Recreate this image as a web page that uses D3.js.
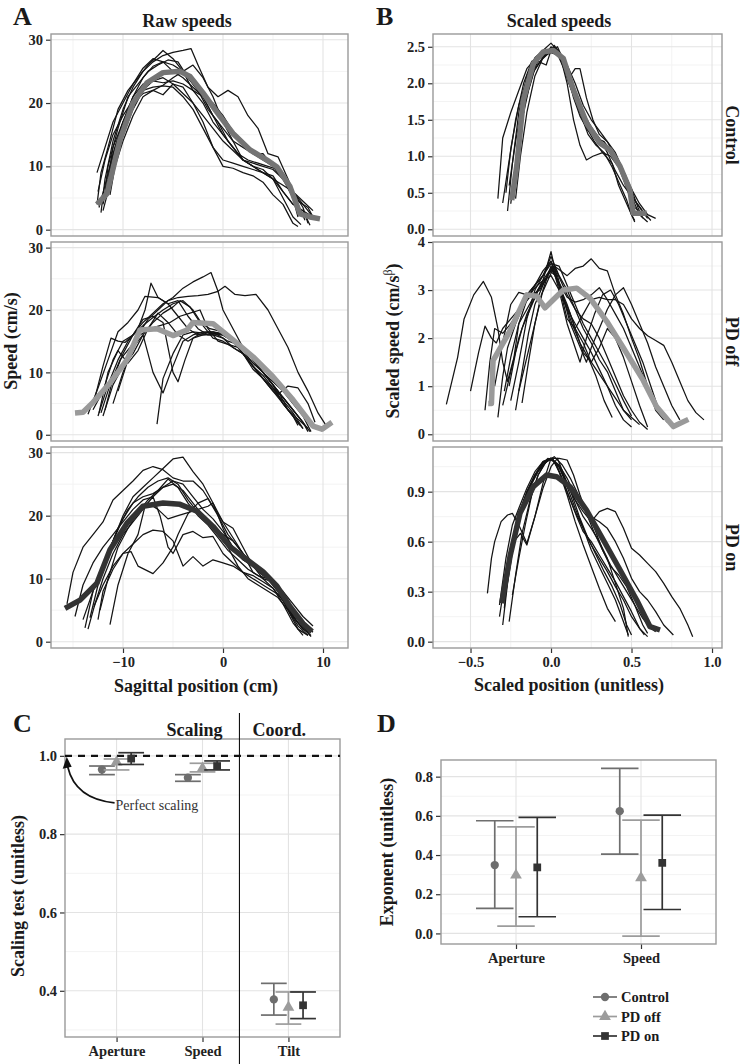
<!DOCTYPE html>
<html><head><meta charset="utf-8">
<script src="https://cdn.jsdelivr.net/npm/d3@7"></script>
<style>body{margin:0;background:#fff}</style>
</head><body>
<svg id="chart" width="743" height="1064"></svg>
<script>
// ---------------- DATA ----------------
const groups = ["Control", "PD off", "PD on"];

// Panel A: raw speeds (position cm, speed cm/s)
const rawControlTrials = [
  [[-12.6,4],[-12.2,9],[-11.5,13],[-10.5,19],[-9.5,22],[-8.5,24],[-7.5,26],[-6.5,27.5],[-6,28.3],[-5,27],[-4,25],[-3,22],[-2,21],[-1,18],[0,15],[1,13],[2,11],[3,10],[4,9.5],[5,8],[6,5],[7,2],[7.8,0.8]],
  [[-12.2,2.7],[-11.8,8],[-11,14],[-10,19],[-9,22.5],[-8,25],[-7,26.5],[-6,27.5],[-5,28],[-4,28.3],[-3.2,28.6],[-2.5,26],[-1.5,22.5],[-0.5,21],[0.5,22],[1.5,21],[2.5,18],[3.5,16],[4.5,12],[5.5,11.5],[6.5,8],[7.5,4],[8.2,1.5]],
  [[-11.8,5.8],[-11.5,10],[-10.5,16],[-9.5,21],[-8.5,23],[-7.5,25],[-6.5,26],[-5.5,26.8],[-4.5,26.5],[-3.5,24],[-2.5,22],[-1.5,19],[-0.5,17],[0.5,14],[1.5,12],[2.5,11],[3.5,10.5],[4.5,10],[5.5,9.5],[6.5,7],[7.5,4.5],[8.5,3.5],[9,2]],
  [[-12,4],[-11.5,8],[-10.8,13],[-10,17],[-9,20],[-8,21.5],[-7,22],[-6,21.3],[-5,23],[-4,22.5],[-3,20],[-2,17],[-1,13],[0,10],[1,9.7],[2,9],[3,8.5],[4,7.5],[5,5.5],[6,4],[7,1],[7.5,0.5]],
  [[-12.5,6],[-11.8,11],[-11,15],[-10,18],[-9,20.5],[-8,22],[-7,22.5],[-6,22.7],[-5,22.5],[-4,21],[-3,19],[-2,16],[-1,13],[0,11],[1,10.5],[2,10],[3,9.5],[4,9],[5,8],[6,6],[7,4],[8,3],[9,2],[9.5,1.5]],
  [[-12.6,9],[-12,12],[-11,17],[-10,20],[-9,23],[-8,25.5],[-7,27],[-6,26.5],[-5,25],[-4,24],[-3,22.5],[-2,21],[-1,20],[0,18],[1,15.5],[2,14],[3,12],[4,11],[5,10],[6,8],[7,5],[7.5,2]],
  [[-11.5,8],[-11,13],[-10,17],[-9,21],[-8,23],[-7,23.5],[-6,23.2],[-5,23.5],[-4,23],[-3,22],[-2,20],[-1,17],[0,15],[1,13],[2,11],[3,10],[4,9],[5,8.5],[6,6],[7,4],[8,3],[8.7,0.7]],
  [[-12.4,3.5],[-11.8,7],[-11,12],[-10,17],[-9,21],[-8,24],[-7,25.8],[-6,26.5],[-5,26],[-4,25],[-3,23],[-2,21],[-1,18],[0,16],[1,14],[2,13],[3,12],[4,12],[5,10],[6,8],[7,6],[8,4.5],[9,3]],
  [[-12,3],[-11.5,6],[-10.8,10],[-10,15],[-9,19],[-8,22],[-7,23.5],[-6,24],[-5,23],[-4,21.5],[-3,20],[-2,18],[-1,16],[0,14],[1,12.5],[2,11],[3,10.5],[4,10],[5,9.5],[6,8],[7,6],[8,3.5],[8.5,1]],
  [[-11.3,5.5],[-10.8,10],[-10,14],[-9,18],[-8,21],[-7,22],[-6,22.8],[-5,24],[-4,25],[-3,26],[-2,24],[-1,21],[0,17],[1,14],[2,11],[3,10],[4,9],[5,8],[6,7],[7,6],[8,4],[9,2]]
];
const rawControlMean = [[-12.6,4.0],[-11.6,5.7],[-10.3,14.2],[-9.0,20],[-7.6,23.2],[-6.0,24.8],[-4.3,25.0],[-3.3,24.2],[-2.0,21.6],[-0.3,17.9],[1.0,15.2],[2.7,12.6],[4.4,11.0],[5.4,9.9],[6.7,6.8],[7.7,2.5],[8.7,2.0],[9.7,1.7]];

const rawPdOffTrials = [
  [[-12.5,3],[-11.5,8],[-10.5,12],[-9.5,15],[-8.5,17],[-7.8,20],[-7.2,24.3],[-6.5,22],[-5.5,21],[-4.5,19],[-3.5,17],[-2.5,16],[-1,16],[0,15.5],[1,14],[2,13],[3,11],[4,9],[5,7],[6,5],[7,3],[8,1]],
  [[-13.5,3.3],[-12.5,7.5],[-11.5,12],[-10.5,16.5],[-9.5,18],[-8.5,20],[-7.8,22.2],[-6.5,22],[-5.5,21],[-4.5,21.5],[-3.5,19],[-2.5,17],[-1.5,16],[0,16],[1,15],[2,13],[3,11],[4,9.5],[5,7.5],[6,5],[7,3],[7.7,1.5]],
  [[-11.8,4],[-11,9],[-10,13],[-9,16],[-8,18],[-7,19.5],[-6,21],[-5,22],[-4,23.5],[-3,24.5],[-2,25.3],[-1.2,26],[-0.5,23],[0,20],[1,17],[2,14],[3,12],[4,10],[5,8.5],[6,7],[7,5],[8,3],[8.8,0.5]],
  [[-10.5,7],[-9.5,12],[-8.5,16],[-7.5,18.5],[-6.5,20],[-5.5,21.5],[-4.5,22],[-3.5,22.2],[-2.5,22.3],[-1.5,22.5],[-0.5,23],[0.2,23.8],[1.2,22.5],[2.2,22.3],[3.3,22.5],[4.5,20],[5.5,17],[6.5,14],[7.5,10],[8.5,7],[9.5,3.5],[10.3,1.5]],
  [[-12,3],[-11,8],[-10,11],[-9,13],[-8,16],[-7,10],[-6,6.7],[-5,11],[-4,15],[-3,16],[-2,16.5],[-1,16.5],[0,16],[1,15],[2,13],[3,11],[4,9],[5,7],[6,5.5],[7,3.5],[8,1]],
  [[-13,4],[-12,7],[-11,12],[-10,15],[-9,16],[-8,18.5],[-7,19],[-6,18],[-5,10],[-4.5,8.5],[-3.8,12],[-3,15.5],[-2,16],[-1,16.3],[0,16],[1,15],[2,14],[3,12],[4,10],[5,8],[6,6],[7,4],[8,2]],
  [[-6.6,1.7],[-6,9],[-5,13],[-4,16],[-3,16.5],[-2,16.3],[-1,16.5],[0,16.2],[1,15],[2,13],[3,10.5],[4,9],[5,7.5],[6,6],[7,4],[8,2],[8.7,0.5]],
  [[-11,5],[-10,10],[-9,14],[-8,16],[-7,18],[-6,19.5],[-5,20.5],[-4.3,21.5],[-3.3,20.5],[-2.3,18],[-1.3,17],[0,16.5],[1,15.5],[2,13.5],[3,11.5],[4,10],[5,8],[6,6],[7,4],[8,2],[8.5,0.5]],
  [[-12.2,3.5],[-11.3,8],[-10.3,12],[-9.3,14],[-8.3,16],[-7.3,17],[-6.3,17.5],[-5.3,18],[-4.3,19],[-3.3,19.5],[-2.3,20],[-1.5,17],[-0.5,15],[0.5,14.5],[1.5,14],[2.5,12],[3.5,10],[4.5,8],[5.5,6.5],[6.5,7.8],[7.5,7.5],[8.5,5],[9.2,2]],
  [[-12.8,6],[-12,11],[-11.2,15.5],[-10.5,15],[-9.8,14.8],[-9,16],[-8,17.5],[-7,18.8],[-6,20],[-5,21],[-4,21.5],[-3,20],[-2,17.5],[-1,15.5],[0,15],[1,14],[2,13],[3,11.5],[4,10],[5,8],[6,5],[7,3],[7.5,1.5]],
  [[-12.4,3.5],[-11.5,10],[-10.5,13.5],[-9.5,11.5],[-8.5,13.5],[-7.5,17],[-6.5,19.5],[-5.5,18],[-4.5,16],[-3.5,15],[-2.5,16],[-1.5,16.5],[-0.5,16],[0.5,15],[1.5,14.5],[2.5,13],[3.5,11],[4.5,9],[5.5,7],[6.5,4],[7.5,2.5],[8.5,1]]
];
const rawPdOffMean = [[-14.8,3.5],[-14.0,3.6],[-13,5.2],[-11.3,8.3],[-9.6,12.0],[-8.3,16.8],[-6.6,17],[-5,15.9],[-3.6,16.8],[-3.0,18.0],[-1.0,17.8],[1.0,15.2],[3.0,12.5],[5.0,9.3],[7.0,5.6],[9.0,1.4],[9.9,0.9],[10.9,2.0]];

const rawPdOnTrials = [
  [[-15.6,6],[-15,11],[-14,15],[-13,17],[-12,19],[-11,22.5],[-10,24],[-9,25.5],[-8,27.2],[-7,27.8],[-6,27.3],[-5,26],[-4,25.5],[-3,25.5],[-2,24],[-1,21.5],[0,19],[1,16.5],[2,14],[3,12],[4,10],[5,8.5],[6,6.5],[7,4],[8,2],[8.8,1]],
  [[-14,3.5],[-13,8],[-12,12],[-11,16],[-10,20],[-9,23],[-8,24.5],[-7,26],[-6,27.5],[-5,29],[-4,29.3],[-3,27],[-2,25],[-1,22],[0,19],[1,18],[2,15],[3,12],[4,11],[5,9.5],[6,7],[7,4.5],[8,2.5],[8.7,1]],
  [[-13.5,2],[-12.8,6],[-12,9],[-11,12],[-10,14],[-9.2,14.3],[-8.5,12],[-7.5,11.2],[-7,10.8],[-6,12.5],[-5,15],[-4.5,17],[-3.5,20.3],[-2.5,22],[-1.5,22.7],[-0.5,20],[0.5,17],[1.5,15],[2.5,13],[3.5,12],[4.5,10],[5.5,8],[6.5,5],[7.5,2],[8.5,1]],
  [[-12.5,3.5],[-12,8],[-11,11.5],[-10,14],[-9,15.5],[-8,17],[-7,17.7],[-6,17.5],[-5,16],[-4,12],[-3,13.5],[-2,12],[-1,13],[0,12.5],[1,12],[2,11],[3,10.5],[4,9.5],[5,8.5],[6,6],[7,3],[8,1]],
  [[-11.3,2.7],[-10.5,9],[-9.5,14],[-8.5,17],[-7.8,21.5],[-7,23],[-6.3,20],[-5.5,15],[-5,14],[-4,17],[-3,17.5],[-2,16.5],[-1,16.7],[0,14],[1,12.5],[2,11],[3,10],[4,9],[5,8],[6,7],[7,4],[8,2]],
  [[-13.3,3.8],[-12.5,9],[-11.5,14],[-10.5,18],[-9.5,21],[-8.5,23],[-7.5,24.5],[-6.5,25.5],[-5.5,26],[-4.5,25],[-3.5,22.5],[-2.5,20.5],[-1.5,19],[-0.5,17],[0.5,15],[1.5,12],[2.5,10],[3.5,9],[4.5,8],[5.5,7],[6.5,5],[7.5,2.5],[8.5,1]],
  [[-12.3,5],[-11.5,10],[-10.5,15],[-9.5,18],[-8.5,20.5],[-7.5,22.5],[-6.5,24],[-5.5,25.8],[-4.5,24.5],[-3.5,22],[-2.5,20],[-1.5,18.5],[-0.5,16.5],[0.5,14.5],[1.5,13],[2.5,11.5],[3.5,10.5],[4.5,10],[5.5,8],[6.5,5.5],[7.5,3],[8.5,1.5]],
  [[-13.8,2.2],[-13,8],[-12,12],[-11,16],[-10,19.5],[-9,22],[-8,23],[-7,23.5],[-6,24.5],[-5,25],[-4,24],[-3,22],[-2,20],[-1,18.5],[0,17],[1,16],[2,14],[3,11],[4,10],[5,9.5],[6,7],[7,5],[8,3],[9,1.5]],
  [[-14.8,4],[-14,9],[-13,12.5],[-12,15],[-11,17],[-10,19],[-9,21],[-8,22.5],[-7,23],[-6,24.5],[-5,25.5],[-4,25],[-3,23],[-2,21],[-1,19.5],[0,17.5],[1,15],[2,13],[3,12],[4,10.5],[5,9.5],[6,8],[7,6],[8,4],[9,2.5]],
  [[-12.9,5.5],[-12,10],[-11,14],[-10,17],[-9,19],[-8,21],[-7.5,22],[-6.5,21],[-5.5,19.5],[-4.5,20],[-3.5,20.5],[-2.5,21],[-1.5,21.5],[-1,22],[0,18],[1,14.5],[2,13],[3,12],[4,11],[5,9],[6,7],[7,4.5],[8,2.5],[8.8,0.8]]
];
const rawPdOnMean = [[-15.8,5.3],[-14.3,6.6],[-12.6,9.3],[-11.3,14.6],[-9.6,18.8],[-8.0,21.5],[-6.0,22.0],[-4.3,21.8],[-2.6,20.7],[-1.0,18.3],[0.7,15.1],[2.4,13],[4.0,11.1],[5.4,8.8],[6.7,5.6],[8.0,2.9],[8.9,1.6]];

// Panel B: scaled speeds
const scaledControlTrials = [
  [[-0.33,0.42],[-0.3,1.25],[-0.25,1.6],[-0.2,1.9],[-0.15,2.2],[-0.1,2.33],[-0.05,2.35],[0,2.5],[0.05,2.4],[0.1,2.2],[0.15,1.9],[0.2,1.6],[0.25,1.4],[0.3,1.25],[0.35,1.05],[0.4,0.8],[0.45,0.6],[0.5,0.45],[0.55,0.3],[0.6,0.15]],
  [[-0.3,0.36],[-0.27,0.8],[-0.22,1.5],[-0.17,2.0],[-0.12,2.3],[-0.06,2.35],[-0.02,2.4],[0.02,2.5],[0.06,2.35],[0.1,2.0],[0.14,1.5],[0.18,1.15],[0.22,0.95],[0.26,1.0],[0.32,1.05],[0.38,0.9],[0.42,0.6],[0.47,0.35],[0.52,0.1]],
  [[-0.27,0.25],[-0.24,0.9],[-0.2,1.6],[-0.15,2.1],[-0.1,2.35],[-0.05,2.45],[0,2.55],[0.04,2.45],[0.08,2.3],[0.12,2.1],[0.15,2.2],[0.18,2.2],[0.22,1.8],[0.26,1.5],[0.3,1.3],[0.35,1.2],[0.4,1.0],[0.45,0.7],[0.5,0.45],[0.55,0.2],[0.6,0.1]],
  [[-0.22,0.42],[-0.19,1.0],[-0.15,1.6],[-0.1,2.1],[-0.05,2.35],[0,2.48],[0.04,2.4],[0.08,2.2],[0.13,1.9],[0.18,1.6],[0.23,1.3],[0.28,1.15],[0.33,1.05],[0.38,0.85],[0.43,0.6],[0.47,0.4],[0.5,0.2],[0.52,0.12]],
  [[-0.25,0.35],[-0.22,0.9],[-0.18,1.5],[-0.14,1.9],[-0.1,2.2],[-0.05,2.35],[-0.01,2.42],[0.03,2.45],[0.07,2.3],[0.11,2.0],[0.16,1.75],[0.21,1.5],[0.26,1.3],[0.31,1.15],[0.36,1.1],[0.4,1.0],[0.45,0.8],[0.5,0.55],[0.54,0.3],[0.57,0.15]],
  [[-0.28,0.5],[-0.25,1.1],[-0.2,1.7],[-0.15,2.05],[-0.1,2.3],[-0.05,2.38],[0,2.42],[0.05,2.38],[0.1,2.25],[0.15,2.0],[0.2,1.7],[0.25,1.5],[0.3,1.35],[0.35,1.2],[0.4,1.05],[0.45,0.8],[0.5,0.55],[0.55,0.35],[0.6,0.2],[0.65,0.15]],
  [[-0.26,0.6],[-0.22,1.2],[-0.18,1.7],[-0.13,2.1],[-0.08,2.3],[-0.03,2.25],[0.0,2.45],[0.04,2.5],[0.08,2.3],[0.12,1.95],[0.17,1.65],[0.22,1.4],[0.27,1.2],[0.32,1.05],[0.37,1.0],[0.42,0.85],[0.47,0.6],[0.52,0.4],[0.57,0.25],[0.62,0.12]],
  [[-0.24,0.55],[-0.2,1.2],[-0.16,1.75],[-0.11,2.15],[-0.06,2.32],[-0.02,2.4],[0.02,2.52],[0.06,2.4],[0.1,2.15],[0.14,1.8],[0.18,1.55],[0.23,1.35],[0.28,1.25],[0.33,1.2],[0.38,1.05],[0.43,0.8],[0.48,0.5],[0.52,0.3],[0.56,0.22]]
];
const scaledControlMean = [[-0.244,0.40],[-0.213,0.86],[-0.172,1.77],[-0.11,2.27],[-0.048,2.43],[0.014,2.45],[0.076,2.34],[0.139,1.91],[0.222,1.45],[0.304,1.18],[0.366,1.09],[0.429,0.86],[0.49,0.54],[0.51,0.22],[0.594,0.22]];

const scaledPdOffTrials = [
  [[-0.65,0.62],[-0.58,1.6],[-0.54,2.4],[-0.48,2.9],[-0.42,3.18],[-0.37,2.85],[-0.33,2.2],[-0.3,1.5],[-0.27,1.1],[-0.23,1.6],[-0.2,2.3],[-0.15,2.6],[-0.1,2.9],[-0.05,3.2],[0,3.8],[0.04,3.2],[0.08,2.8],[0.13,2.3],[0.18,1.9],[0.23,1.6],[0.28,1.2],[0.33,0.7],[0.38,0.35]],
  [[-0.5,0.9],[-0.45,1.7],[-0.41,2.25],[-0.37,2.0],[-0.34,1.9],[-0.3,2.2],[-0.25,2.4],[-0.2,2.6],[-0.15,2.9],[-0.1,3.1],[-0.05,3.3],[0,3.7],[0.05,3.3],[0.1,3.0],[0.15,2.6],[0.2,2.2],[0.25,1.9],[0.3,1.55],[0.35,1.3],[0.4,0.9],[0.45,0.5],[0.5,0.3]],
  [[-0.33,0.35],[-0.3,1.2],[-0.27,1.8],[-0.22,2.3],[-0.17,2.7],[-0.12,2.9],[-0.07,3.0],[-0.02,3.3],[0.02,3.5],[0.06,3.4],[0.1,3.3],[0.15,3.45],[0.2,3.5],[0.25,3.65],[0.3,3.45],[0.35,3.4],[0.4,2.9],[0.45,2.5],[0.5,2.0],[0.55,1.55],[0.6,1.0],[0.65,0.5],[0.7,0.3]],
  [[-0.2,0.9],[-0.15,1.6],[-0.1,2.3],[-0.05,3.0],[0,3.5],[0.05,3.1],[0.1,2.4],[0.15,2.2],[0.2,2.5],[0.25,2.8],[0.3,2.85],[0.35,2.8],[0.4,2.8],[0.45,2.7],[0.5,2.4],[0.55,2.2],[0.6,2.05],[0.65,1.95],[0.7,1.85],[0.75,1.5],[0.8,1.1],[0.85,0.7],[0.9,0.45],[0.95,0.3]],
  [[-0.25,0.7],[-0.2,1.5],[-0.15,2.4],[-0.1,3.0],[-0.05,3.3],[0,3.6],[0.04,3.3],[0.08,2.8],[0.12,2.3],[0.17,1.9],[0.22,1.5],[0.25,1.8],[0.3,2.2],[0.35,2.6],[0.4,2.9],[0.45,3.05],[0.5,2.7],[0.55,2.3],[0.6,1.9],[0.65,1.4],[0.7,1.0],[0.75,0.6],[0.8,0.3]],
  [[-0.29,0.9],[-0.25,1.6],[-0.2,2.3],[-0.15,2.8],[-0.1,3.1],[-0.05,3.3],[0,3.55],[0.05,3.5],[0.1,3.1],[0.15,2.7],[0.2,2.3],[0.25,2.0],[0.3,1.7],[0.35,1.4],[0.4,1.05],[0.45,0.7],[0.5,0.38]],
  [[-0.22,0.5],[-0.18,1.3],[-0.14,2.1],[-0.1,2.7],[-0.05,3.1],[-0.01,3.4],[0.03,3.3],[0.07,2.9],[0.12,2.5],[0.16,2.1],[0.2,1.7],[0.25,1.5],[0.3,1.8],[0.35,2.2],[0.4,2.0],[0.45,1.6],[0.5,1.1],[0.55,0.6],[0.6,0.15]],
  [[-0.3,0.6],[-0.25,1.3],[-0.2,2.0],[-0.15,2.5],[-0.1,2.85],[-0.05,3.2],[0,3.45],[0.05,3.15],[0.1,2.85],[0.15,2.75],[0.2,2.8],[0.25,2.9],[0.3,3.05],[0.35,2.8],[0.4,2.5],[0.45,2.2],[0.5,1.8],[0.55,1.4],[0.6,1.0],[0.65,0.6],[0.7,0.35]],
  [[-0.41,0.5],[-0.38,1.5],[-0.35,2.2],[-0.3,2.1],[-0.25,2.3],[-0.2,2.55],[-0.15,2.8],[-0.1,3.05],[-0.05,3.2],[0,3.3],[0.05,3.0],[0.1,2.6],[0.15,2.3],[0.2,2.0],[0.25,1.7],[0.3,1.35],[0.35,1.0],[0.4,0.6],[0.45,0.3],[0.5,0.15]],
  [[-0.18,0.65],[-0.14,1.5],[-0.1,2.3],[-0.06,2.9],[-0.02,3.2],[0.02,3.5],[0.06,3.2],[0.1,2.9],[0.15,2.6],[0.2,2.4],[0.25,2.3],[0.3,2.0],[0.35,1.6],[0.4,1.2],[0.45,0.8],[0.5,0.5],[0.55,0.25],[0.6,0.1]],
  [[-0.26,1.0],[-0.22,1.7],[-0.18,2.2],[-0.13,2.6],[-0.08,3.0],[-0.03,3.25],[0.01,3.5],[0.05,3.1],[0.1,2.7],[0.15,2.2],[0.2,1.9],[0.25,1.5],[0.3,1.25],[0.35,1.0],[0.4,0.75],[0.45,0.5],[0.5,0.35],[0.55,0.2]],
  [[-0.35,1.0],[-0.3,1.9],[-0.25,2.7],[-0.2,2.95],[-0.15,2.9],[-0.1,3.1],[-0.05,3.4],[0,3.6],[0.05,3.0],[0.1,2.3],[0.15,1.8],[0.18,1.5],[0.22,2.0],[0.27,2.5],[0.32,2.9],[0.37,3.0],[0.42,2.7],[0.47,2.3],[0.52,1.9],[0.57,1.5],[0.62,1.0],[0.67,0.5],[0.72,0.25]]
];
const scaledPdOffMean = [[-0.39,0.64],[-0.37,0.64],[-0.36,1.53],[-0.255,2.15],[-0.151,2.9],[-0.089,2.87],[-0.037,2.63],[0.014,2.8],[0.076,3.0],[0.16,3.04],[0.242,2.83],[0.346,2.35],[0.449,1.8],[0.573,1.12],[0.656,0.57],[0.76,0.16],[0.853,0.31]];

const scaledPdOnTrials = [
  [[-0.395,0.29],[-0.37,0.5],[-0.35,0.6],[-0.31,0.72],[-0.27,0.76],[-0.24,0.77],[-0.2,0.7],[-0.15,0.59],[-0.1,0.75],[-0.05,0.95],[0,1.1],[0.05,1.05],[0.1,0.95],[0.15,0.85],[0.2,0.75],[0.25,0.68],[0.3,0.6],[0.35,0.5],[0.4,0.35],[0.45,0.2],[0.48,0.03]],
  [[-0.32,0.15],[-0.28,0.4],[-0.24,0.6],[-0.2,0.75],[-0.15,0.88],[-0.1,1.0],[-0.05,1.08],[0,1.1],[0.05,1.05],[0.1,0.95],[0.15,0.85],[0.2,0.78],[0.25,0.72],[0.3,0.78],[0.35,0.8],[0.4,0.78],[0.45,0.68],[0.5,0.56],[0.55,0.52],[0.6,0.47],[0.65,0.42],[0.7,0.35],[0.75,0.27],[0.8,0.2],[0.85,0.1],[0.88,0.03]],
  [[-0.3,0.1],[-0.27,0.35],[-0.23,0.6],[-0.19,0.78],[-0.15,0.9],[-0.1,1.0],[-0.05,1.06],[0,1.1],[0.05,1.06],[0.1,0.98],[0.15,0.88],[0.2,0.8],[0.25,0.75],[0.3,0.72],[0.35,0.68],[0.4,0.6],[0.45,0.5],[0.5,0.38],[0.55,0.3],[0.6,0.25],[0.65,0.18],[0.7,0.1],[0.76,0.04]],
  [[-0.26,0.12],[-0.22,0.4],[-0.18,0.65],[-0.13,0.85],[-0.08,1.0],[-0.03,1.08],[0.01,1.1],[0.05,1.02],[0.1,0.88],[0.15,0.72],[0.2,0.58],[0.25,0.45],[0.3,0.32],[0.35,0.2],[0.4,0.12]],
  [[-0.29,0.2],[-0.26,0.5],[-0.22,0.7],[-0.17,0.85],[-0.12,0.95],[-0.07,1.05],[-0.02,1.1],[0.02,1.08],[0.06,1.0],[0.1,0.9],[0.15,0.78],[0.2,0.68],[0.25,0.55],[0.3,0.45],[0.35,0.35],[0.4,0.25],[0.45,0.12],[0.48,0.04]],
  [[-0.24,0.28],[-0.2,0.5],[-0.16,0.7],[-0.12,0.88],[-0.08,1.0],[-0.04,1.07],[0,1.1],[0.04,1.05],[0.08,0.95],[0.12,0.85],[0.16,0.75],[0.2,0.66],[0.25,0.6],[0.3,0.52],[0.35,0.44],[0.4,0.36],[0.45,0.27],[0.5,0.18],[0.55,0.08],[0.58,0.04]],
  [[-0.3,0.25],[-0.27,0.45],[-0.23,0.65],[-0.18,0.82],[-0.13,0.93],[-0.08,1.02],[-0.03,1.08],[0.02,1.11],[0.07,1.06],[0.12,0.98],[0.17,0.88],[0.22,0.78],[0.27,0.68],[0.32,0.55],[0.37,0.45],[0.42,0.4],[0.47,0.33],[0.52,0.22],[0.57,0.1],[0.6,0.05]],
  [[-0.28,0.3],[-0.24,0.55],[-0.2,0.75],[-0.15,0.9],[-0.1,1.0],[-0.05,1.07],[0,1.1],[0.05,1.1],[0.1,1.09],[0.14,1.0],[0.18,0.88],[0.22,0.77],[0.27,0.65],[0.32,0.55],[0.37,0.46],[0.42,0.38],[0.47,0.3],[0.52,0.22],[0.57,0.14],[0.62,0.08],[0.65,0.06]],
  [[-0.27,0.4],[-0.23,0.6],[-0.19,0.65],[-0.15,0.58],[-0.1,0.75],[-0.05,0.92],[0,1.05],[0.04,1.1],[0.08,1.0],[0.13,0.88],[0.18,0.74],[0.23,0.62],[0.28,0.52],[0.33,0.42],[0.38,0.33],[0.43,0.22],[0.47,0.1],[0.5,0.04]],
  [[-0.32,0.22],[-0.28,0.5],[-0.24,0.7],[-0.2,0.8],[-0.15,0.92],[-0.1,1.02],[-0.05,1.08],[0,1.1],[0.05,1.05],[0.1,0.93],[0.15,0.8],[0.2,0.68],[0.25,0.58],[0.3,0.5],[0.35,0.42],[0.4,0.33],[0.45,0.25],[0.5,0.15],[0.55,0.08],[0.6,0.03]]
];
const scaledPdOnMean = [[-0.306,0.23],[-0.255,0.51],[-0.193,0.77],[-0.11,0.93],[-0.027,1.0],[0.035,0.99],[0.118,0.93],[0.22,0.79],[0.325,0.61],[0.429,0.43],[0.532,0.25],[0.615,0.09],[0.677,0.07]];

// Panel C: scaling test [mean, lower, upper]
const scalingCategories = ["Aperture", "Speed", "Tilt"];
const scalingControl = [[0.965,0.952,0.974],[0.944,0.935,0.952],[0.378,0.338,0.419]];
const scalingPdOff   = [[0.984,0.964,0.992],[0.968,0.959,0.981],[0.358,0.315,0.397]];
const scalingPdOn    = [[0.993,0.978,1.008],[0.974,0.964,0.987],[0.363,0.329,0.397]];

// Panel D: exponent [mean, lower, upper]
const exponentCategories = ["Aperture", "Speed"];
const exponentControl = [[0.349,0.128,0.575],[0.624,0.405,0.842]];
const exponentPdOff   = [[0.297,0.037,0.544],[0.284,-0.014,0.578]];
const exponentPdOn    = [[0.337,0.085,0.592],[0.360,0.122,0.604]];

// ---------------- DRAWING ----------------
const FONT = "'Liberation Serif','Times New Roman',serif";
const svg = d3.select("#chart").style("font-family", FONT);
svg.append("rect").attr("width", 743).attr("height", 1064).attr("fill", "#fff");

const groupColor = {"Control": "#6e6e6e", "PD off": "#9c9c9c", "PD on": "#333333"};
const groupSymbol = {"Control": d3.symbolCircle, "PD off": d3.symbolTriangle, "PD on": d3.symbolSquare};
const groupSize = {"Control": 54, "PD off": 60, "PD on": 60};

const GRID_MAJOR = "#e3e3e3", GRID_MINOR = "#f3f3f3", FRAME = "#9a9a9a";
const TICK_FS = 14.5, TITLE_FS = 18;

function drawPanel(o) {
  const g = svg.append("g");
  const [x0, x1] = o.x.range(), [y0, y1] = o.y.range();
  (o.yMinor || []).forEach(v => g.append("line").attr("x1", x0).attr("x2", x1)
    .attr("y1", o.y(v)).attr("y2", o.y(v)).attr("stroke", GRID_MINOR).attr("stroke-width", 1));
  (o.xMinor || []).forEach(v => g.append("line").attr("y1", y0).attr("y2", y1)
    .attr("x1", o.x(v)).attr("x2", o.x(v)).attr("stroke", GRID_MINOR).attr("stroke-width", 1));
  o.yTicks.forEach(v => g.append("line").attr("x1", x0).attr("x2", x1)
    .attr("y1", o.y(v)).attr("y2", o.y(v)).attr("stroke", GRID_MAJOR).attr("stroke-width", 1.1));
  o.xTicks.forEach(v => g.append("line").attr("y1", y0).attr("y2", y1)
    .attr("x1", o.x(v)).attr("x2", o.x(v)).attr("stroke", GRID_MAJOR).attr("stroke-width", 1.1));
  const ya = svg.append("g").attr("transform", `translate(${x0},0)`)
    .call(d3.axisLeft(o.y).tickValues(o.yTicks).tickFormat(o.yFormat).tickSize(5).tickPadding(3));
  ya.select(".domain").remove();
  ya.selectAll(".tick line").attr("stroke", "#333").attr("stroke-width", 1.2);
  ya.selectAll(".tick text").attr("font-family", FONT).attr("font-weight", "bold")
    .attr("font-size", TICK_FS).attr("fill", "#222");
  if (o.showX) {
    const xa = svg.append("g").attr("transform", `translate(0,${y0})`)
      .call(d3.axisBottom(o.x).tickValues(o.xTicks).tickFormat(o.xFormat).tickSize(5).tickPadding(4));
    xa.select(".domain").remove();
    xa.selectAll(".tick line").attr("stroke", "#333").attr("stroke-width", 1.2);
    xa.selectAll(".tick text").attr("font-family", FONT).attr("font-weight", "bold")
      .attr("font-size", TICK_FS).attr("fill", "#222");
  }
  return g;
}
function drawFrame(x, y) {
  const [x0, x1] = x.range(), [y0, y1] = y.range();
  svg.append("rect").attr("x", x0).attr("y", y1).attr("width", x1 - x0).attr("height", y0 - y1)
    .attr("fill", "none").attr("stroke", FRAME).attr("stroke-width", 1.4);
}
function drawLines(g, x, y, trials, mean, meanColor) {
  const line = d3.line().x(d => x(d[0])).y(d => y(d[1]));
  g.selectAll(null).data(trials).enter().append("path").attr("d", line)
    .attr("fill", "none").attr("stroke", "#141414").attr("stroke-width", 1.25).attr("stroke-linejoin", "round");
  g.append("path").attr("d", line(mean)).attr("fill", "none").attr("stroke", meanColor)
    .attr("stroke-width", 5.5).attr("stroke-linejoin", "round");
}
function text(x, y, s, opts = {}) {
  const t = svg.append("text").attr("x", x).attr("y", y).text(s)
    .attr("font-family", FONT).attr("font-weight", opts.weight || "bold")
    .attr("font-size", opts.size || TITLE_FS).attr("fill", opts.fill || "#1a1a1a")
    .attr("text-anchor", opts.anchor || "middle");
  if (opts.rotate) t.attr("transform", `rotate(${opts.rotate},${x},${y})`);
  return t;
}

const facetRows = [[236, 34], [441, 242], [648, 447]];
const fmtInt = d3.format("d"), fmt1 = d3.format(".1f");

// ----- Panel A -----
const xA = d3.scaleLinear().domain([-17.2, 12.5]).range([51, 348]);
const rawSets = [[rawControlTrials, rawControlMean, "#747474"],
                 [rawPdOffTrials, rawPdOffMean, "#9a9a9a"],
                 [rawPdOnTrials, rawPdOnMean, "#333333"]];
rawSets.forEach((s, i) => {
  const yA = d3.scaleLinear().domain([-1.0, 30.9]).range(facetRows[i]);
  const g = drawPanel({x: xA, y: yA, xTicks: [-10, 0, 10], xMinor: [-15, -5, 5],
    yTicks: [0, 10, 20, 30], yMinor: [5, 15, 25], yFormat: fmtInt, xFormat: d3.format("d"), showX: i === 2});
  drawLines(g, xA, yA, s[0], s[1], s[2]);
  drawFrame(xA, yA);
});

// ----- Panel B -----
const xB = d3.scaleLinear().domain([-0.733, 1.062]).range([433, 722]);
const scaledSets = [
  {trials: scaledControlTrials, mean: scaledControlMean, color: "#747474", dom: [-0.092, 2.675],
   ticks: [0, 0.5, 1, 1.5, 2, 2.5], minor: [0.25, 0.75, 1.25, 1.75, 2.25], fmt: fmt1, strip: "Control"},
  {trials: scaledPdOffTrials, mean: scaledPdOffMean, color: "#9a9a9a", dom: [-0.14, 4.0],
   ticks: [0, 1, 2, 3, 4], minor: [0.5, 1.5, 2.5, 3.5], fmt: fmtInt, strip: "PD off"},
  {trials: scaledPdOnTrials, mean: scaledPdOnMean, color: "#333333", dom: [-0.038, 1.168],
   ticks: [0, 0.3, 0.6, 0.9], minor: [0.15, 0.45, 0.75, 1.05], fmt: fmt1, strip: "PD on"}
];
scaledSets.forEach((s, i) => {
  const yB = d3.scaleLinear().domain(s.dom).range(facetRows[i]);
  const g = drawPanel({x: xB, y: yB, xTicks: [-0.5, 0, 0.5, 1], xMinor: [-0.25, 0.25, 0.75],
    yTicks: s.ticks, yMinor: s.minor, yFormat: s.fmt, xFormat: fmt1, showX: i === 2});
  drawLines(g, xB, yB, s.trials, s.mean, s.color);
  drawFrame(xB, yB);
  const cy = (facetRows[i][0] + facetRows[i][1]) / 2;
  text(726, cy, s.strip, {rotate: 90, size: 18});
});

// Titles panel A/B
text(13, 25, "A", {anchor: "start", size: 26});
text(376, 25, "B", {anchor: "start", size: 26});
text(187, 27, "Raw speeds", {size: 18});
text(559, 27, "Scaled speeds", {size: 18});
text(17, 341, "Speed (cm/s)", {rotate: -90});
const by = text(399, 341, "Scaled speed (cm/s", {rotate: -90});
by.append("tspan").text("β").attr("font-size", 12).attr("font-weight", "normal").attr("dy", -7);
by.append("tspan").text(")").attr("dy", 7);
text(196, 692, "Sagittal position (cm)");
text(569, 691, "Scaled position (unitless)");

// ----- Panel C -----
const xC = d3.scaleLinear().domain([0.4, 3.6]).range([65, 340]);
const yC = d3.scaleLinear().domain([0.282, 1.043]).range([1037, 739]);
drawPanel({x: xC, y: yC, xTicks: [1, 2, 3], xMinor: [], yTicks: [0.4, 0.6, 0.8, 1.0],
  yMinor: [0.3, 0.5, 0.7, 0.9], yFormat: fmt1, xFormat: (d) => scalingCategories[d - 1], showX: true});
drawFrame(xC, yC);
const dodge = [-0.17, 0, 0.17], capHalf = 0.15;
function drawErrorPoints(x, y, sets) {
  sets.forEach(([name, arr], gi) => {
    const c = groupColor[name];
    arr.forEach((v, ci) => {
      const cx = ci + 1 + dodge[gi];
      const g = svg.append("g").attr("stroke", c).attr("stroke-width", 1.7);
      g.append("line").attr("x1", x(cx)).attr("x2", x(cx)).attr("y1", y(v[1])).attr("y2", y(v[2]));
      g.append("line").attr("x1", x(cx - capHalf)).attr("x2", x(cx + capHalf)).attr("y1", y(v[1])).attr("y2", y(v[1]));
      g.append("line").attr("x1", x(cx - capHalf)).attr("x2", x(cx + capHalf)).attr("y1", y(v[2])).attr("y2", y(v[2]));
      svg.append("path").attr("d", d3.symbol(groupSymbol[name], groupSize[name])())
        .attr("transform", `translate(${x(cx)},${y(v[0])})`).attr("fill", c);
    });
  });
}
svg.append("line").attr("x1", xC(0.4)).attr("x2", xC(3.6)).attr("y1", yC(1)).attr("y2", yC(1))
  .attr("stroke", "#111").attr("stroke-width", 2.2).attr("stroke-dasharray", "7,6");
drawErrorPoints(xC, yC, [["Control", scalingControl], ["PD off", scalingPdOff], ["PD on", scalingPdOn]]);
const sepX = xC(2.43);
svg.append("line").attr("x1", sepX).attr("x2", sepX).attr("y1", 713).attr("y2", 1064)
  .attr("stroke", "#111").attr("stroke-width", 1.1);
text(sepX - 17, 736, "Scaling", {anchor: "end"});
text(sepX + 13, 736, "Coord.", {anchor: "start"});
const annX = 1.0, annY = 0.875;
text(xC(annX) - 1, yC(annY) + 5, "Perfect scaling", {anchor: "start", weight: "normal", size: 14, fill: "#333"});
const sx = xC(annX) - 2, sy = yC(annY) - 2, tx = xC(0.42), ty = yC(1.0) + 9;
svg.append("path").attr("d", `M${sx},${sy} Q${xC(0.52)},${yC(0.89)} ${tx + 1},${ty + 2}`)
  .attr("fill", "none").attr("stroke", "#111").attr("stroke-width", 1.8);
svg.append("path").attr("d", `M${tx},${yC(1.0) + 1} L${tx - 4},${ty + 4} L${tx + 5},${ty + 2} Z`)
  .attr("fill", "#111");
text(13, 732, "C", {anchor: "start", size: 26});
text(24, 896, "Scaling test (unitless)", {rotate: -90});

// ----- Panel D -----
const xD = d3.scaleLinear().domain([0.4, 2.6]).range([441, 716]);
const yD = d3.scaleLinear().domain([-0.054, 0.885]).range([944, 760]);
drawPanel({x: xD, y: yD, xTicks: [1, 2], xMinor: [], yTicks: [0, 0.2, 0.4, 0.6, 0.8],
  yMinor: [0.1, 0.3, 0.5, 0.7], yFormat: fmt1, xFormat: (d) => exponentCategories[d - 1], showX: true});
drawFrame(xD, yD);
drawErrorPoints(xD, yD, [["Control", exponentControl], ["PD off", exponentPdOff], ["PD on", exponentPdOn]]);
text(377, 732, "D", {anchor: "start", size: 26});
text(393, 852, "Exponent (unitless)", {rotate: -90});

groups.forEach((name, i) => {
  const ly = 997 + i * 19.5;
  svg.append("line").attr("x1", 593).attr("x2", 617).attr("y1", ly).attr("y2", ly)
    .attr("stroke", groupColor[name]).attr("stroke-width", 1.7);
  svg.append("path").attr("d", d3.symbol(groupSymbol[name], groupSize[name])())
    .attr("transform", `translate(605,${ly})`).attr("fill", groupColor[name]);
  text(621, ly + 5, name, {anchor: "start", size: 14.5});
});
</script>
</body></html>
